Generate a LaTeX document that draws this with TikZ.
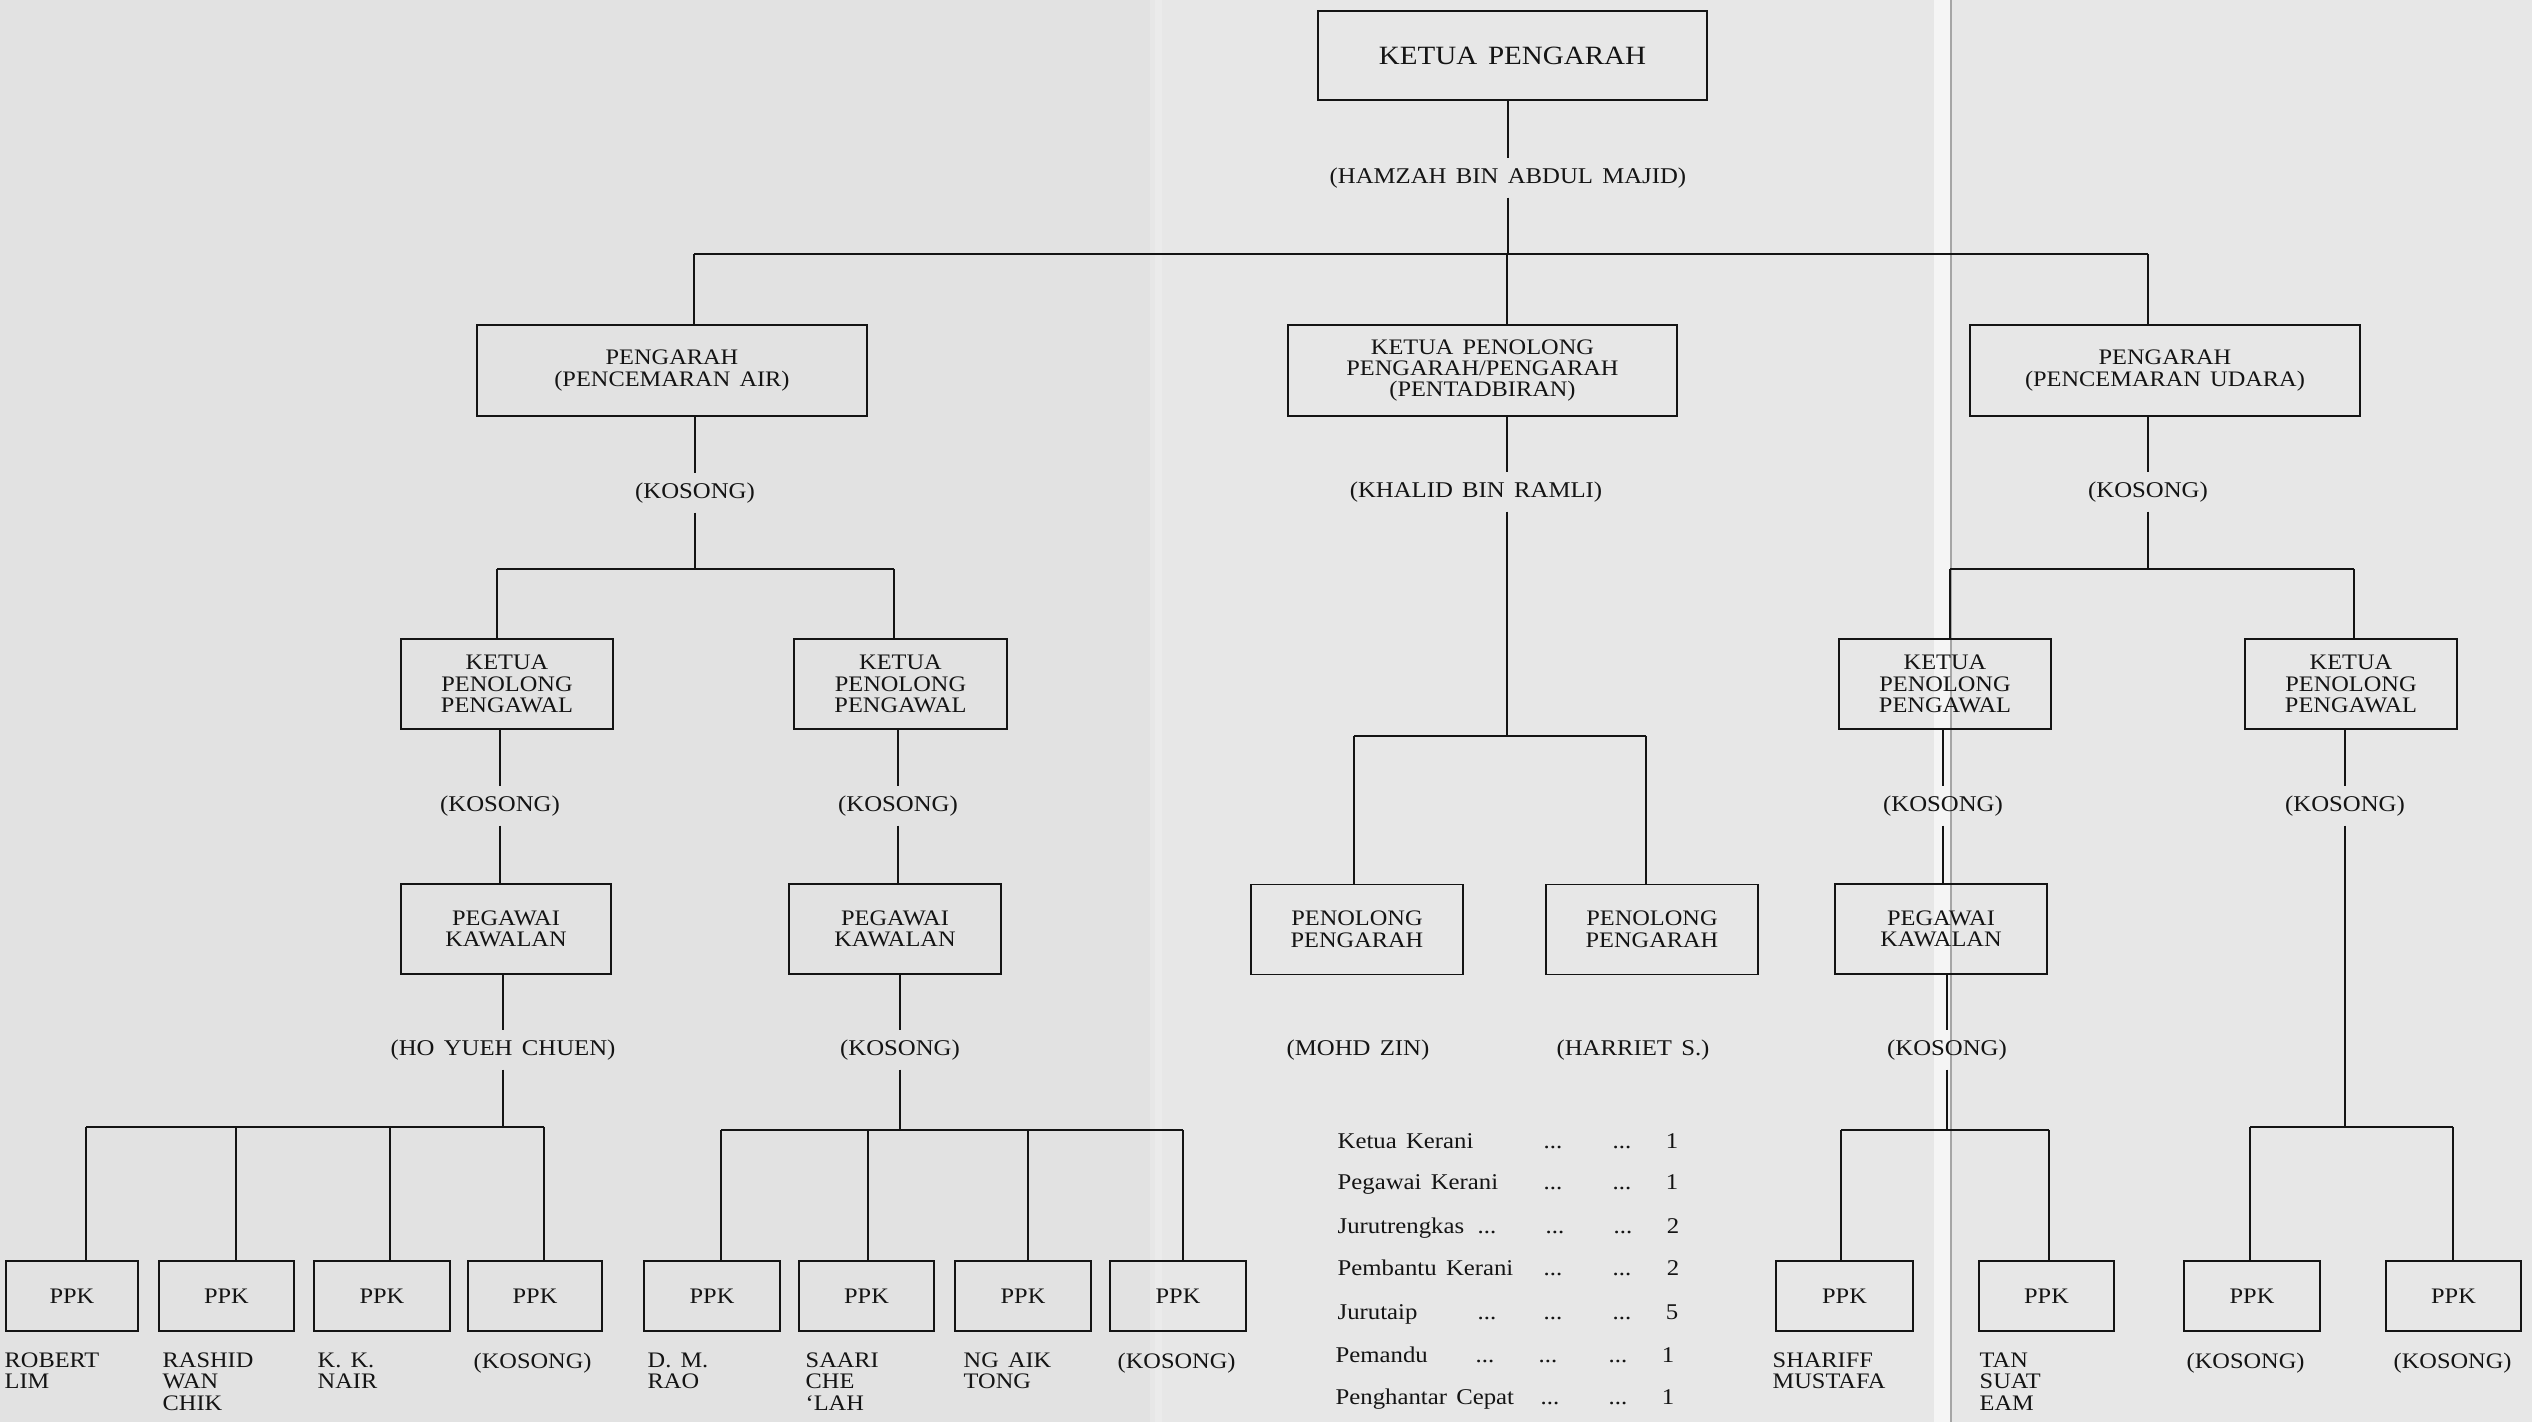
\documentclass[tikz,border=0pt]{standalone}
\usepackage{fontspec}
\setmainfont{Liberation Serif}[FakeStretch=1.1,WordSpace=1.5]
\definecolor{bgL}{RGB}{226,226,226}
\definecolor{bgR}{RGB}{231,231,231}
\definecolor{ink}{RGB}{20,20,20}
\newcommand\bxf{\fontsize{6.3}{6.1}\selectfont}
\newcommand\topf{\fontsize{7.5}{8}\selectfont}
\newcommand\lbf{\fontsize{6.4}{6.2}\selectfont}
\tikzset{
  ln/.style={line width=0.55pt, draw=ink},
  box/.style={draw=ink, line width=0.55pt, inner sep=0pt, align=center, font=\bxf, text=ink},
  topbox/.style={box, font=\topf, minimum width=3.89cm, minimum height=0.89cm},
  bigbox/.style={box, minimum width=3.90cm, minimum height=0.91cm},
  midbox/.style={box, minimum width=2.12cm, minimum height=0.90cm},
  ppk/.style={box, minimum height=0.70cm},
  lbl/.style={inner sep=2.5pt, font=\lbf, text=ink},
  nm/.style={anchor=north west, inner sep=0pt, align=left, font=\bxf, text=ink},
  stf/.style={anchor=base west, inner sep=0pt, font=\lbf, text=ink},
  stn/.style={anchor=base, inner sep=0pt, font=\lbf, text=ink},
}
\begin{document}
\begin{tikzpicture}[x=0.01cm,y=-0.01cm]
\useasboundingbox (0,0) rectangle (2532,1422);
% paper
\fill[bgL] (0,0) rectangle (1155,1422);
\fill[bgR] (1155,0) rectangle (2532,1422);
\fill[white,opacity=0.2] (1150,0) rectangle (1162,1422);
\fill[white,opacity=0.6] (1934,0) rectangle (1950,1422);
\draw[gray!70,line width=0.45pt] (1951,0) -- (1951,1422);

% level 0
\node[topbox] (T) at (1512.5,55.5) {KETUA PENGARAH};
\node[lbl] (tl) at (1508,178) {(HAMZAH BIN ABDUL MAJID)};
\coordinate (b0) at (1508,254);
\coordinate (b1a) at (694,254);
\coordinate (b1b) at (1507,254);
\coordinate (b1c) at (2148,254);
\draw[ln] (T.south -| tl) -- (tl.north);
\draw[ln] (tl.south) -- (b0);
\draw[ln] (b1a) -- (b1c);

% level 1
\node[bigbox] (A) at (672,370.5) {PENGARAH\\(PENCEMARAN AIR)};
\node[bigbox, minimum width=3.89cm] (B) at (1482.5,370.5) {KETUA PENOLONG\\PENGARAH/PENGARAH\\(PENTADBIRAN)};
\node[bigbox] (C) at (2165,370.5) {PENGARAH\\(PENCEMARAN UDARA)};
\draw[ln] (b1a) -- (b1a |- A.north);
\draw[ln] (b1b) -- (b1b |- B.north);
\draw[ln] (b1c) -- (b1c |- C.north);

\node[lbl] (kA) at (695,493) {(KOSONG)};
\node[lbl] (kB) at (1476,492) {(KHALID BIN RAMLI)};
\node[lbl] (kC) at (2148,492) {(KOSONG)};

% left branch
\coordinate (s2m) at (695,569);
\coordinate (s2a) at (497,569);
\coordinate (s2b) at (894,569);
\draw[ln] (A.south -| kA) -- (kA.north);
\draw[ln] (kA.south) -- (s2m);
\draw[ln] (s2a) -- (s2b);
\node[midbox] (D1) at (507,684) {KETUA\\PENOLONG\\PENGAWAL};
\node[midbox] (D2) at (900.5,684) {KETUA\\PENOLONG\\PENGAWAL};
\draw[ln] (s2a) -- (s2a |- D1.north);
\draw[ln] (s2b) -- (s2b |- D2.north);

% middle branch
\coordinate (s3m) at (1507,736);
\coordinate (s3a) at (1354,736);
\coordinate (s3b) at (1646,736);
\draw[ln] (B.south -| s3m) -- (kB.north -| s3m);
\draw[ln] (kB.south -| s3m) -- (s3m);
\draw[ln] (s3a) -- (s3b);
\node[midbox] (P1) at (1357,929.5) {PENOLONG\\PENGARAH};
\node[midbox] (P2) at (1652,929.5) {PENOLONG\\PENGARAH};
\draw[ln] (s3a) -- (s3a |- P1.north);
\draw[ln] (s3b) -- (s3b |- P2.north);

% right branch
\coordinate (s2r) at (2148,569);
\coordinate (s2c) at (1950,569);
\coordinate (s2d) at (2354,569);
\draw[ln] (C.south -| kC) -- (kC.north);
\draw[ln] (kC.south) -- (s2r);
\draw[ln] (s2c) -- (s2d);
\node[midbox] (D3) at (1945,684) {KETUA\\PENOLONG\\PENGAWAL};
\node[midbox] (D4) at (2351,684) {KETUA\\PENOLONG\\PENGAWAL};
\draw[ln] (s2c) -- (s2c |- D3.north);
\draw[ln] (s2d) -- (s2d |- D4.north);

% level 2 labels
\node[lbl] (k1) at (500,806) {(KOSONG)};
\node[lbl] (k2) at (898,806) {(KOSONG)};
\node[lbl] (k3) at (1943,806) {(KOSONG)};
\node[lbl] (k4) at (2345,806) {(KOSONG)};

% level 3
\node[midbox, minimum width=2.10cm] (E1) at (506,929) {PEGAWAI\\KAWALAN};
\node[midbox] (E2) at (895,929) {PEGAWAI\\KAWALAN};
\node[midbox] (E3) at (1941,929) {PEGAWAI\\KAWALAN};
\draw[ln] (D1.south -| k1) -- (k1.north);
\draw[ln] (k1.south) -- (k1.south |- E1.north);
\draw[ln] (D2.south -| k2) -- (k2.north);
\draw[ln] (k2.south) -- (k2.south |- E2.north);
\draw[ln] (D3.south -| k3) -- (k3.north);
\draw[ln] (k3.south) -- (k3.south |- E3.north);
\draw[ln] (D4.south -| k4) -- (k4.north);

\node[lbl] (h1) at (503,1050) {(HO YUEH CHUEN)};
\node[lbl] (h2) at (900,1050) {(KOSONG)};
\node[lbl] (h3) at (1358,1050) {(MOHD ZIN)};
\node[lbl] (h4) at (1633,1050) {(HARRIET S.)};
\node[lbl] (h5) at (1947,1050) {(KOSONG)};
\draw[ln] (E1.south -| h1) -- (h1.north);
\draw[ln] (E2.south -| h2) -- (h2.north);
\draw[ln] (E3.south -| h5) -- (h5.north);

% PPK boxes
\foreach \nm/\cx/\w in {L1/72/1.32, L2/226.5/1.35, L3/382/1.36, L4/535/1.34,
                        M1/712/1.36, M2/866.5/1.35, M3/1023/1.36, M4/1178/1.36,
                        R1/1844.5/1.37, R2/2046.5/1.35, R3/2252/1.36, R4/2453.5/1.35}
  {\node[ppk, minimum width=\w cm] (\nm) at (\cx,1296) {PPK};}

\foreach \nm/\x/\y in {L1/86/1127, L2/236/1127, L3/390/1127, L4/544/1127,
                       M1/721/1130, M2/868/1130, M3/1028/1130, M4/1183/1130,
                       R1/1841/1130, R2/2049/1130, R3/2250/1127, R4/2453/1127}
  {\coordinate (d\nm) at (\x,\y); \draw[ln] (d\nm) -- (d\nm |- \nm.north);}

\draw[ln] (dL1) -- (dL4);
\draw[ln] (dM1) -- (dM4);
\draw[ln] (dR1) -- (dR2);
\draw[ln] (dR3) -- (dR4);
\draw[ln] (h1.south) -- (h1.south |- dL1);
\draw[ln] (h2.south) -- (h2.south |- dM1);
\draw[ln] (h5.south) -- (h5.south |- dR1);
\draw[ln] (k4.south) -- (k4.south |- dR3);

% names
\node[nm] (n1) at (4,1352) {ROBERT\\LIM};
\node[nm] (n2) at (162,1352) {RASHID\\WAN\\CHIK};
\node[nm] (n3) at (317,1352) {K. K.\\NAIR};
\node[nm] (n4) at (473,1352) {(KOSONG)};
\node[nm] (n5) at (647,1352) {D. M.\\RAO};
\node[nm] (n6) at (805,1352) {SAARI\\CHE\\‘LAH};
\node[nm] (n7) at (963,1352) {NG AIK\\TONG};
\node[nm] (n8) at (1117,1352) {(KOSONG)};
\node[nm] (n9) at (1772,1352) {SHARIFF\\MUSTAFA};
\node[nm] (n10) at (1979,1352) {TAN\\SUAT\\EAM};
\node[nm] (n11) at (2186,1352) {(KOSONG)};
\node[nm] (n12) at (2393,1352) {(KOSONG)};

% staff list
\node[stf] (r1) at (1337,1149) {Ketua Kerani};
\node[stf] (r1b) at (1543,1149) {...};
\node[stf] (r1c) at (1612,1149) {...};
\node[stn] (r1n) at (1672,1149) {1};
\node[stf] (r2) at (1337,1190) {Pegawai Kerani};
\node[stf] (r2b) at (1543,1190) {...};
\node[stf] (r2c) at (1612,1190) {...};
\node[stn] (r2n) at (1672,1190) {1};
\node[stf] (r3) at (1337,1234) {Jurutrengkas};
\node[stf] (r3a) at (1477,1234) {...};
\node[stf] (r3b) at (1545,1234) {...};
\node[stf] (r3c) at (1613,1234) {...};
\node[stn] (r3n) at (1673,1234) {2};
\node[stf] (r4) at (1337,1275) {Pembantu Kerani};
\node[stf] (r4b) at (1543,1275) {...};
\node[stf] (r4c) at (1612,1275) {...};
\node[stn] (r4n) at (1673,1275) {2};
\node[stf] (r5) at (1337,1319) {Jurutaip};
\node[stf] (r5a) at (1477,1319) {...};
\node[stf] (r5b) at (1543,1319) {...};
\node[stf] (r5c) at (1612,1319) {...};
\node[stn] (r5n) at (1672,1319) {5};
\node[stf] (r6) at (1335,1362) {Pemandu};
\node[stf] (r6a) at (1475,1362) {...};
\node[stf] (r6b) at (1538,1362) {...};
\node[stf] (r6c) at (1608,1362) {...};
\node[stn] (r6n) at (1668,1362) {1};
\node[stf] (r7) at (1335,1404) {Penghantar Cepat};
\node[stf] (r7b) at (1540,1404) {...};
\node[stf] (r7c) at (1608,1404) {...};
\node[stn] (r7n) at (1668,1404) {1};
\end{tikzpicture}
\end{document}
